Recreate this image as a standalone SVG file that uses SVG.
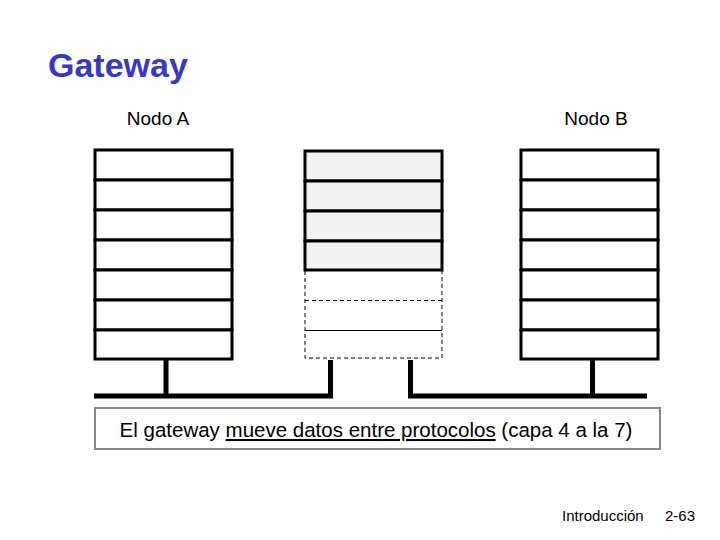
<svg xmlns="http://www.w3.org/2000/svg" width="720" height="540" viewBox="0 0 720 540">
<style>
text{font-family:"Liberation Sans",Arial,sans-serif;fill:#000}
.title{font-size:34px;font-weight:bold;fill:#3838c0}
.lbl{font-size:19px}
.cap{font-size:20.5px}
.foot{font-size:15px}
.layer{fill:#fff;stroke:#000;stroke-width:3}
.glayer{fill:#f2f2f2;stroke:#000;stroke-width:3}
.dash{fill:none;stroke:#000;stroke-width:1;stroke-dasharray:4 3}
.wire{fill:none;stroke:#000;stroke-width:5}
</style>
<rect width="720" height="540" fill="#fff"/>
<text class="title" x="48" y="77">Gateway</text>
<g id="nodeA">
<text class="lbl" x="158" y="125" text-anchor="middle">Nodo A</text>
<rect class="layer" x="95" y="150" width="137" height="30"/>
<rect class="layer" x="95" y="180" width="137" height="30"/>
<rect class="layer" x="95" y="210" width="137" height="30"/>
<rect class="layer" x="95" y="240" width="137" height="30"/>
<rect class="layer" x="95" y="270" width="137" height="30"/>
<rect class="layer" x="95" y="300" width="137" height="30"/>
<rect class="layer" x="95" y="330" width="137" height="29"/>
</g>
<g id="gateway">
<rect class="glayer" x="305" y="151" width="137" height="30"/>
<rect class="glayer" x="305" y="181" width="137" height="30"/>
<rect class="glayer" x="305" y="211" width="137" height="30"/>
<rect class="glayer" x="305" y="241" width="137" height="29"/>
<path class="dash" d="M305,271 V358 H442 V271 M305,300.5 H442"/>
<line x1="305" y1="330.5" x2="442" y2="330.5" stroke="#000" stroke-width="1"/>
</g>
<g id="nodeB">
<text class="lbl" x="596" y="125" text-anchor="middle">Nodo B</text>
<rect class="layer" x="521" y="150" width="137" height="30"/>
<rect class="layer" x="521" y="180" width="137" height="30"/>
<rect class="layer" x="521" y="210" width="137" height="30"/>
<rect class="layer" x="521" y="240" width="137" height="30"/>
<rect class="layer" x="521" y="270" width="137" height="30"/>
<rect class="layer" x="521" y="300" width="137" height="30"/>
<rect class="layer" x="521" y="330" width="137" height="29"/>
</g>
<g id="connectors">
<path class="wire" d="M166,360 V396 M94,396 H333 M330.5,360 V396"/>
<path class="wire" d="M410.5,360 V396 M408,396 H647 M592.5,360 V396"/>
</g>
<g id="caption">
<rect x="95" y="408" width="565" height="41" fill="#fff" stroke="#888" stroke-width="2"/>
<text class="cap" x="376" y="437" text-anchor="middle">El gateway <tspan text-decoration="underline">mueve datos entre protocolos</tspan> (capa 4 a la 7)</text>
</g>
<text class="foot" x="562" y="521">Introducción</text>
<text class="foot" x="665" y="521">2-63</text>
</svg>
